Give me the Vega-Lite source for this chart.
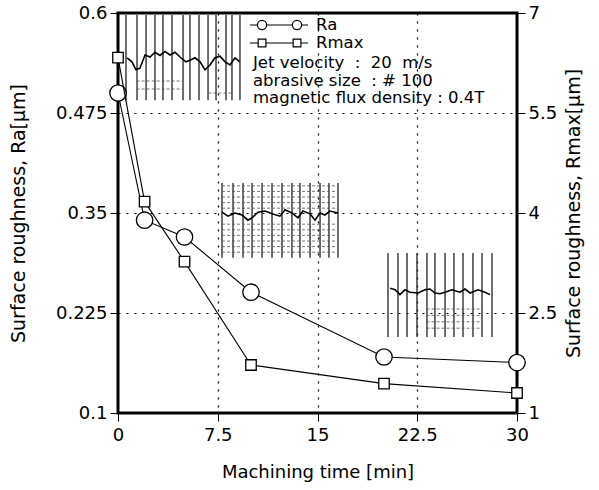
{
  "$schema": "https://vega.github.io/schema/vega-lite/v6.json",
  "width": 399,
  "height": 400,
  "autosize": {"type": "none"},
  "padding": {"left": 118, "top": 13, "right": 82, "bottom": 77},
  "background": "white",
  "config": {
    "font": "DejaVu Sans",
    "view": {"stroke": "black", "strokeWidth": 3},
    "axis": {
      "domain": false,
      "labelFont": "DejaVu Sans",
      "titleFont": "DejaVu Sans",
      "labelFontSize": 18,
      "titleFontSize": 18,
      "labelColor": "black",
      "titleColor": "black",
      "titleFontWeight": "normal",
      "tickColor": "black",
      "tickSize": 8,
      "tickWidth": 1,
      "gridColor": "black",
      "gridDash": [2, 6],
      "gridWidth": 1.2,
      "gridOpacity": 1
    }
  },
  "layer": [
    {
      "encoding": {
        "x": {
          "field": "time", "type": "quantitative",
          "scale": {"domain": [0, 30], "nice": false, "zero": false},
          "axis": {
            "title": "Machining time [min]",
            "values": [0, 7.5, 15, 22.5, 30],
            "format": ".1~f",
            "grid": true,
            "labelPadding": 5,
            "titlePadding": 19,
            "labelFlush": false
          }
        },
        "y": {
          "field": "value", "type": "quantitative",
          "scale": {"domain": [0.1, 0.6], "nice": false, "zero": false},
          "axis": {
            "title": "Surface roughness, Ra[μm]",
            "titleFontSize": 19,
            "values": [0.1, 0.225, 0.35, 0.475, 0.6],
            "format": ".3~f",
            "grid": true,
            "labelPadding": 3,
            "titlePadding": 27,
            "labelFlush": false
          }
        }
      },
      "layer": [
        {
          "data": {"values": [
            {"inset": 1, "time": 0.60, "value": 0.5975, "bottom": 0.491},
            {"inset": 1, "time": 1.43, "value": 0.5975, "bottom": 0.491},
            {"inset": 1, "time": 2.11, "value": 0.5975, "bottom": 0.491},
            {"inset": 1, "time": 2.78, "value": 0.5975, "bottom": 0.491},
            {"inset": 1, "time": 3.38, "value": 0.5975, "bottom": 0.491},
            {"inset": 1, "time": 4.06, "value": 0.5975, "bottom": 0.491},
            {"inset": 1, "time": 4.89, "value": 0.5975, "bottom": 0.491},
            {"inset": 1, "time": 5.41, "value": 0.5975, "bottom": 0.491},
            {"inset": 1, "time": 6.09, "value": 0.5975, "bottom": 0.491},
            {"inset": 1, "time": 6.77, "value": 0.5975, "bottom": 0.491},
            {"inset": 1, "time": 7.37, "value": 0.5975, "bottom": 0.491},
            {"inset": 1, "time": 8.12, "value": 0.5975, "bottom": 0.491},
            {"inset": 1, "time": 8.57, "value": 0.5975, "bottom": 0.491},
            {"inset": 1, "time": 9.17, "value": 0.5975, "bottom": 0.491},
            {"inset": 2, "time": 7.82, "value": 0.3875, "bottom": 0.294},
            {"inset": 2, "time": 8.65, "value": 0.3875, "bottom": 0.294},
            {"inset": 2, "time": 9.40, "value": 0.3875, "bottom": 0.294},
            {"inset": 2, "time": 10.08, "value": 0.3875, "bottom": 0.294},
            {"inset": 2, "time": 10.83, "value": 0.3875, "bottom": 0.294},
            {"inset": 2, "time": 11.58, "value": 0.3875, "bottom": 0.294},
            {"inset": 2, "time": 12.33, "value": 0.3875, "bottom": 0.294},
            {"inset": 2, "time": 13.08, "value": 0.3875, "bottom": 0.294},
            {"inset": 2, "time": 13.68, "value": 0.3875, "bottom": 0.294},
            {"inset": 2, "time": 14.44, "value": 0.3875, "bottom": 0.294},
            {"inset": 2, "time": 15.19, "value": 0.3875, "bottom": 0.294},
            {"inset": 2, "time": 15.86, "value": 0.3875, "bottom": 0.294},
            {"inset": 2, "time": 16.54, "value": 0.3875, "bottom": 0.294},
            {"inset": 3, "time": 20.30, "value": 0.30, "bottom": 0.195},
            {"inset": 3, "time": 21.05, "value": 0.30, "bottom": 0.195},
            {"inset": 3, "time": 21.73, "value": 0.30, "bottom": 0.195},
            {"inset": 3, "time": 22.48, "value": 0.30, "bottom": 0.195},
            {"inset": 3, "time": 23.23, "value": 0.30, "bottom": 0.195},
            {"inset": 3, "time": 23.83, "value": 0.30, "bottom": 0.195},
            {"inset": 3, "time": 24.59, "value": 0.30, "bottom": 0.195},
            {"inset": 3, "time": 25.26, "value": 0.30, "bottom": 0.195},
            {"inset": 3, "time": 25.94, "value": 0.30, "bottom": 0.195},
            {"inset": 3, "time": 26.69, "value": 0.30, "bottom": 0.195},
            {"inset": 3, "time": 27.37, "value": 0.30, "bottom": 0.195},
            {"inset": 3, "time": 28.12, "value": 0.30, "bottom": 0.195}
          ]},
          "mark": {"type": "rule", "color": "#222", "strokeWidth": 1.3},
          "encoding": {"y2": {"field": "bottom"}}
        },
        {
          "data": {"values": [
            {"time": 7.82, "end": 16.54, "value": 0.384},
            {"time": 7.82, "end": 16.54, "value": 0.377},
            {"time": 7.82, "end": 16.54, "value": 0.370},
            {"time": 7.82, "end": 16.54, "value": 0.363},
            {"time": 7.82, "end": 16.54, "value": 0.356},
            {"time": 7.82, "end": 16.54, "value": 0.336},
            {"time": 7.82, "end": 16.54, "value": 0.329},
            {"time": 7.82, "end": 16.54, "value": 0.322},
            {"time": 7.82, "end": 16.54, "value": 0.315},
            {"time": 7.82, "end": 16.54, "value": 0.308},
            {"time": 7.82, "end": 16.54, "value": 0.301},
            {"time": 23.2, "end": 27.4, "value": 0.230},
            {"time": 23.2, "end": 27.4, "value": 0.222},
            {"time": 23.2, "end": 27.4, "value": 0.214},
            {"time": 23.2, "end": 27.4, "value": 0.206},
            {"time": 1.4, "end": 4.9, "value": 0.505},
            {"time": 1.4, "end": 4.9, "value": 0.515},
            {"time": 6.8, "end": 8.6, "value": 0.500}
          ]},
          "mark": {"type": "rule", "color": "#555", "strokeWidth": 1, "strokeDash": [3, 2], "opacity": 0.8},
          "encoding": {"x2": {"field": "end"}}
        },
        {
          "data": {"values": [
            {"inset": 1, "time": 0.68, "value": 0.544},
            {"inset": 1, "time": 1.05, "value": 0.539},
            {"inset": 1, "time": 1.35, "value": 0.529},
            {"inset": 1, "time": 1.65, "value": 0.531},
            {"inset": 1, "time": 2.03, "value": 0.5475},
            {"inset": 1, "time": 2.41, "value": 0.545},
            {"inset": 1, "time": 2.78, "value": 0.551},
            {"inset": 1, "time": 3.16, "value": 0.547},
            {"inset": 1, "time": 3.53, "value": 0.552},
            {"inset": 1, "time": 3.91, "value": 0.5475},
            {"inset": 1, "time": 4.29, "value": 0.551},
            {"inset": 1, "time": 4.66, "value": 0.545},
            {"inset": 1, "time": 5.11, "value": 0.539},
            {"inset": 1, "time": 5.41, "value": 0.541},
            {"inset": 1, "time": 5.79, "value": 0.544},
            {"inset": 1, "time": 6.17, "value": 0.539},
            {"inset": 1, "time": 6.54, "value": 0.529},
            {"inset": 1, "time": 6.92, "value": 0.535},
            {"inset": 1, "time": 7.29, "value": 0.544},
            {"inset": 1, "time": 7.67, "value": 0.546},
            {"inset": 1, "time": 8.05, "value": 0.539},
            {"inset": 1, "time": 8.42, "value": 0.535},
            {"inset": 1, "time": 8.80, "value": 0.544},
            {"inset": 1, "time": 9.17, "value": 0.539},
            {"inset": 2, "time": 7.82, "value": 0.351},
            {"inset": 2, "time": 8.27, "value": 0.346},
            {"inset": 2, "time": 8.80, "value": 0.350},
            {"inset": 2, "time": 9.32, "value": 0.3475},
            {"inset": 2, "time": 9.77, "value": 0.341},
            {"inset": 2, "time": 10.08, "value": 0.344},
            {"inset": 2, "time": 10.53, "value": 0.351},
            {"inset": 2, "time": 11.05, "value": 0.3525},
            {"inset": 2, "time": 11.58, "value": 0.349},
            {"inset": 2, "time": 12.18, "value": 0.346},
            {"inset": 2, "time": 12.56, "value": 0.354},
            {"inset": 2, "time": 13.08, "value": 0.350},
            {"inset": 2, "time": 13.53, "value": 0.344},
            {"inset": 2, "time": 13.91, "value": 0.3525},
            {"inset": 2, "time": 14.44, "value": 0.349},
            {"inset": 2, "time": 14.81, "value": 0.341},
            {"inset": 2, "time": 15.19, "value": 0.350},
            {"inset": 2, "time": 15.56, "value": 0.3475},
            {"inset": 2, "time": 15.94, "value": 0.3525},
            {"inset": 2, "time": 16.54, "value": 0.350},
            {"inset": 3, "time": 20.45, "value": 0.256},
            {"inset": 3, "time": 20.83, "value": 0.254},
            {"inset": 3, "time": 21.20, "value": 0.248},
            {"inset": 3, "time": 21.58, "value": 0.254},
            {"inset": 3, "time": 21.95, "value": 0.251},
            {"inset": 3, "time": 22.56, "value": 0.250},
            {"inset": 3, "time": 23.08, "value": 0.254},
            {"inset": 3, "time": 23.46, "value": 0.255},
            {"inset": 3, "time": 23.83, "value": 0.250},
            {"inset": 3, "time": 24.21, "value": 0.249},
            {"inset": 3, "time": 24.59, "value": 0.251},
            {"inset": 3, "time": 25.11, "value": 0.254},
            {"inset": 3, "time": 25.71, "value": 0.251},
            {"inset": 3, "time": 26.09, "value": 0.255},
            {"inset": 3, "time": 26.47, "value": 0.250},
            {"inset": 3, "time": 27.07, "value": 0.254},
            {"inset": 3, "time": 27.59, "value": 0.251},
            {"inset": 3, "time": 27.97, "value": 0.248}
          ]},
          "mark": {"type": "line", "color": "black", "strokeWidth": 1.6},
          "encoding": {"detail": {"field": "inset", "type": "nominal"}}
        },
        {
          "data": {"values": [
            {"key": "Ra", "time": 9.92, "end": 14.29, "value": 0.585},
            {"key": "Rmax", "time": 9.92, "end": 14.29, "value": 0.5625}
          ]},
          "mark": {"type": "rule", "color": "black", "strokeWidth": 1},
          "encoding": {"x2": {"field": "end"}}
        },
        {
          "data": {"values": [
            {"key": "Ra", "time": 10.83, "value": 0.585},
            {"key": "Ra", "time": 13.46, "value": 0.585},
            {"key": "Rmax", "time": 10.83, "value": 0.5625},
            {"key": "Rmax", "time": 13.46, "value": 0.5625}
          ]},
          "mark": {"type": "point", "filled": false, "fill": "white", "fillOpacity": 1, "stroke": "black", "strokeWidth": 1.2, "opacity": 1},
          "encoding": {
            "shape": {"field": "key", "type": "nominal", "scale": {"domain": ["Ra", "Rmax"], "range": ["circle", "square"]}, "legend": null},
            "size": {"field": "key", "type": "nominal", "scale": {"domain": ["Ra", "Rmax"], "range": [85, 60]}, "legend": null}
          }
        },
        {
          "data": {"values": [
            {"time": 14.89, "value": 0.585, "label": "Ra"},
            {"time": 14.89, "value": 0.5625, "label": "Rmax"},
            {"time": 10.15, "value": 0.5375, "label": "Jet velocity\u00a0 :\u00a0 20\u00a0 m/s"},
            {"time": 10.15, "value": 0.515, "label": "abrasive size\u00a0 : # 100"},
            {"time": 10.15, "value": 0.4935, "label": "magnetic flux density : 0.4T"}
          ]},
          "mark": {"type": "text", "align": "left", "baseline": "middle", "fontSize": 16.5, "color": "black", "font": "DejaVu Sans"},
          "encoding": {"text": {"field": "label", "type": "nominal"}}
        },
        {
          "data": {"values": [
            {"time": 0, "value": 0.5},
            {"time": 2, "value": 0.341},
            {"time": 5, "value": 0.32},
            {"time": 10, "value": 0.251},
            {"time": 20, "value": 0.17},
            {"time": 30, "value": 0.163}
          ]},
          "mark": {"type": "line", "color": "black", "strokeWidth": 1.1}
        },
        {
          "data": {"values": [
            {"time": 0, "value": 0.5},
            {"time": 2, "value": 0.341},
            {"time": 5, "value": 0.32},
            {"time": 10, "value": 0.251},
            {"time": 20, "value": 0.17},
            {"time": 30, "value": 0.163}
          ]},
          "mark": {"type": "point", "shape": "circle", "size": 270, "filled": false, "fill": "white", "fillOpacity": 1, "stroke": "black", "strokeWidth": 1.3, "opacity": 1}
        }
      ]
    },
    {
      "data": {"values": [
        {"time": 0, "Rmax": 6.33},
        {"time": 2, "Rmax": 4.17},
        {"time": 5, "Rmax": 3.27},
        {"time": 10, "Rmax": 1.72},
        {"time": 20, "Rmax": 1.44},
        {"time": 30, "Rmax": 1.3}
      ]},
      "encoding": {
        "x": {
          "field": "time", "type": "quantitative",
          "scale": {"domain": [0, 30], "nice": false, "zero": false},
          "axis": {
            "title": "Machining time [min]",
            "values": [0, 7.5, 15, 22.5, 30],
            "format": ".1~f",
            "grid": true,
            "labelPadding": 5,
            "titlePadding": 19,
            "labelFlush": false
          }
        },
        "y": {
          "field": "Rmax", "type": "quantitative",
          "scale": {"domain": [1, 7], "nice": false, "zero": false},
          "axis": {
            "orient": "right",
            "title": "Surface roughness, Rmax[μm]",
            "titleFontSize": 19,
            "titleAngle": 270,
            "titleBaseline": "top",
            "values": [1, 2.5, 4, 5.5, 7],
            "format": ".1~f",
            "grid": false,
            "labelPadding": 3,
            "titlePadding": 8,
            "labelFlush": false
          }
        }
      },
      "layer": [
        {"mark": {"type": "line", "color": "black", "strokeWidth": 1.1}},
        {"mark": {"type": "point", "shape": "square", "size": 110, "filled": false, "fill": "white", "fillOpacity": 1, "stroke": "black", "strokeWidth": 1.3, "opacity": 1}}
      ]
    }
  ],
  "resolve": {"scale": {"y": "independent"}, "axis": {"y": "independent"}}
}
